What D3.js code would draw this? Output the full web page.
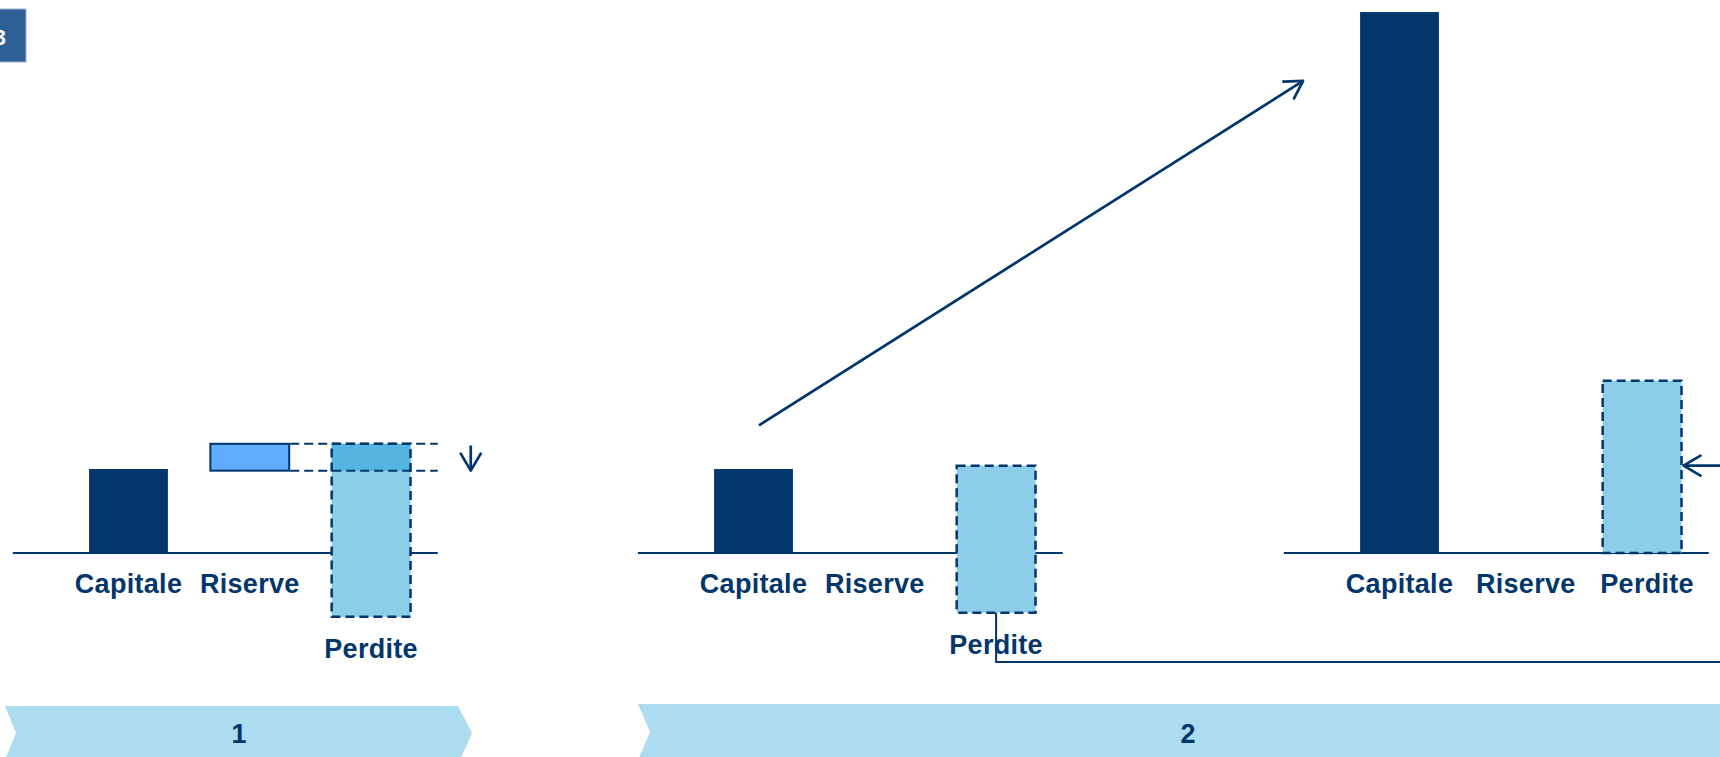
<!DOCTYPE html>
<html>
<head>
<meta charset="utf-8">
<script src="https://cdn.jsdelivr.net/npm/d3@7"></script>
<style>
  body { margin: 0; background: #fff; }
  svg { display: block; font-family: "Liberation Sans", Arial, sans-serif; }
</style>
</head>
<body>
<div id="chart"></div>
<script>
// values in arbitrary units (Capitale of step 1 = 100), one entry per panel
const categories = ["Capitale", "Riserve", "Perdite"];
const stepLabels = ["1", "2"];
const capitale = [100, 100, 644];
const riserveFrom = [98, null, null];
const riserveTo = [130, null, null];
const perditeTop = [130, 104, 205];
const perditeBottom = [-76, -71, 0];

const width = 1720, height = 757;
const navy = "#03366a";
const panelStart = [128.5, 753.5, 1399.5];   // centre of the first bar in each panel
const step = 121.3;

const svg = d3.select("#chart")
    .append("svg")
    .attr("width", width)
    .attr("height", height);

// open arrow head
svg.append("defs").append("marker")
    .attr("id", "head")
    .attr("viewBox", "-22 -14 26 28")
    .attr("markerWidth", 26)
    .attr("markerHeight", 28)
    .attr("markerUnits", "userSpaceOnUse")
    .attr("refX", 0)
    .attr("refY", 0)
    .attr("orient", "auto")
    .append("path")
    .attr("d", "M-17,-10L0,0L-17,10")
    .attr("fill", "none")
    .attr("stroke", navy)
    .attr("stroke-width", 2.7)
    .attr("stroke-linecap", "round")
    .attr("stroke-linejoin", "round");

// shared value scale
const y = d3.scaleLinear()
    .domain([0, 100])
    .range([553, 469]);

//Bottom chevrons
const chev = svg.append("g").attr("fill", "#acdcef");
chev.append("polygon")
    .attr("points", "5,706 458,706 472,733 460,760 5,760 16,733");
chev.append("polygon")
    .attr("points", "638,704 1725,704 1725,760 638,760 650,732");
svg.selectAll(".steplabel")
    .data(stepLabels)
    .join("text")
    .attr("class", "steplabel")
    .attr("x", (d, i) => [239, 1188][i])
    .attr("y", 743)
    .attr("text-anchor", "middle")
    .attr("font-size", "27px")
    .attr("font-weight", "bold")
    .attr("fill", navy)
    .text(d => d);

//Corner badge
svg.append("rect")
    .attr("x", -5).attr("y", 9)
    .attr("width", 31).attr("height", 53)
    .attr("fill", "#2e6096")
    .attr("stroke", "#9fb8d4")
    .attr("stroke-width", 1);
svg.append("text")
    .attr("x", 6).attr("y", 45)
    .attr("text-anchor", "end")
    .attr("font-size", "22px")
    .attr("font-weight", "bold")
    .attr("fill", "#fff")
    .text("3");

const xs = [];

panelStart.forEach((c, i) => {
    const x = d3.scaleBand()
        .domain(categories)
        .range([c - step / 2, c + 2.5 * step])
        .paddingInner(0.35)
        .paddingOuter(0.175);
    xs.push(x);
    const bw = x.bandwidth();
    const [r0, r1] = x.range();
    const g = svg.append("g");

    // baseline
    g.append("line")
        .attr("x1", r0 - 55).attr("x2", r1 + 6)
        .attr("y1", y(0)).attr("y2", y(0))
        .attr("stroke", navy)
        .attr("stroke-width", 2);

    // Capitale
    g.append("rect")
        .attr("x", x("Capitale"))
        .attr("y", y(capitale[i]))
        .attr("width", bw)
        .attr("height", y(0) - y(capitale[i]))
        .attr("fill", navy);

    // Riserve (only first panel)
    if (riserveFrom[i] !== null) {
        g.append("rect")
            .attr("x", x("Riserve"))
            .attr("y", y(riserveTo[i]))
            .attr("width", bw)
            .attr("height", y(riserveFrom[i]) - y(riserveTo[i]))
            .attr("fill", "#5eacfd")
            .attr("stroke", navy)
            .attr("stroke-width", 2);
    }

    // Perdite
    g.append("rect")
        .attr("x", x("Perdite"))
        .attr("y", y(perditeTop[i]))
        .attr("width", bw)
        .attr("height", y(perditeBottom[i]) - y(perditeTop[i]))
        .attr("fill", "#8ccdea");

    if (riserveFrom[i] !== null) {
        g.append("rect")
            .attr("x", x("Perdite"))
            .attr("y", y(riserveTo[i]))
            .attr("width", bw)
            .attr("height", y(riserveFrom[i]) - y(riserveTo[i]))
            .attr("fill", "#55b5e0");
        // dashed guides from Riserve
        g.selectAll(".guide")
            .data([riserveTo[i], riserveFrom[i]])
            .join("line")
            .attr("x1", x("Riserve") + bw + 1)
            .attr("x2", r1 + 6)
            .attr("y1", d => y(d))
            .attr("y2", d => y(d))
            .attr("stroke", navy)
            .attr("stroke-width", 2)
            .attr("stroke-dasharray", "9,5");
        // small down arrow
        g.append("line")
            .attr("x1", r1 + 39).attr("x2", r1 + 39)
            .attr("y1", y(128)).attr("y2", y(riserveFrom[i]))
            .attr("stroke", navy)
            .attr("stroke-width", 2.7)
            .attr("marker-end", "url(#head)");
    }

    g.append("rect")
        .attr("x", x("Perdite"))
        .attr("y", y(perditeTop[i]))
        .attr("width", bw)
        .attr("height", y(perditeBottom[i]) - y(perditeTop[i]))
        .attr("fill", "none")
        .attr("stroke", navy)
        .attr("stroke-width", 2.5)
        .attr("stroke-dasharray", "9,5");

    // category labels
    g.selectAll(".cat")
        .data(categories)
        .join("text")
        .attr("x", d => x(d) + bw / 2 + (i === 2 && d !== "Capitale" ? 5 : 0))
        .attr("y", d => d === "Perdite" && perditeBottom[i] < 0 ? y(perditeBottom[i]) + 41 : 593)
        .attr("text-anchor", "middle")
        .attr("font-size", "27px")
        .attr("font-weight", "bold")
        .attr("letter-spacing", "0.3px")
        .attr("fill", navy)
        .text(d => d);
});

// connector from step 2 Perdite to the right edge
const x2 = xs[1];
svg.append("path")
    .attr("d", `M${x2("Perdite") + x2.bandwidth() / 2},${y(perditeBottom[1])}V662H${width + 2}`)
    .attr("fill", "none")
    .attr("stroke", navy)
    .attr("stroke-width", 2);

// diagonal arrow towards the large Capitale
const x3 = xs[2];
svg.append("line")
    .attr("x1", x2("Capitale") + x2.bandwidth() / 2 + 5.5)
    .attr("y1", y(152))
    .attr("x2", x3("Capitale") - 57)
    .attr("y2", y(562))
    .attr("stroke", navy)
    .attr("stroke-width", 2.7)
    .attr("marker-end", "url(#head)");

// arrow entering the last Perdite box
svg.append("line")
    .attr("x1", width + 2)
    .attr("x2", x3("Perdite") + x3.bandwidth() + 2)
    .attr("y1", y(104))
    .attr("y2", y(104))
    .attr("stroke", navy)
    .attr("stroke-width", 2.7)
    .attr("marker-end", "url(#head)");
</script>
</body>
</html>
